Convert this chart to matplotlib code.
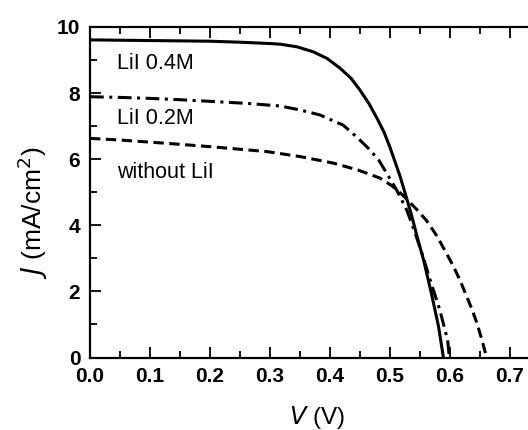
import matplotlib
matplotlib.use('Agg')
import matplotlib.pyplot as plt
from matplotlib.ticker import MultipleLocator

plt.rcParams['font.family'] = ['Liberation Sans', 'DejaVu Sans']

# J-V curves
v_04 = [0.0, 0.05, 0.10, 0.15, 0.20, 0.25, 0.30, 0.317, 0.345, 0.372, 0.395, 0.417, 0.435,
        0.45, 0.465, 0.478, 0.49, 0.50, 0.517, 0.528, 0.536, 0.545, 0.556, 0.569, 0.581, 0.589]
j_04 = [9.61, 9.60, 9.59, 9.58, 9.57, 9.54, 9.50, 9.48, 9.40, 9.25, 9.05, 8.75, 8.45,
        8.09, 7.68, 7.25, 6.82, 6.36, 5.47, 4.80, 4.30, 3.67, 2.95, 1.94, 0.93, 0.0]

v_02 = [0.0, 0.05, 0.10, 0.15, 0.211, 0.26, 0.317, 0.35, 0.383, 0.422, 0.444, 0.464, 0.481,
        0.494, 0.511, 0.528, 0.542, 0.555, 0.567, 0.583, 0.596, 0.599]
j_02 = [7.89, 7.87, 7.84, 7.80, 7.74, 7.69, 7.61, 7.49, 7.34, 7.03, 6.68, 6.33, 5.98,
        5.59, 5.07, 4.46, 3.76, 3.05, 2.34, 1.44, 0.53, 0.0]

v_00 = [0.0, 0.05, 0.128, 0.20, 0.295, 0.35, 0.406, 0.447, 0.483, 0.503, 0.522, 0.545, 0.561,
        0.578, 0.592, 0.606, 0.618, 0.628, 0.637, 0.645, 0.653, 0.661]
j_00 = [6.63, 6.58, 6.48, 6.38, 6.23, 6.08, 5.88, 5.67, 5.43, 5.20, 4.90, 4.47, 4.14,
        3.68, 3.22, 2.75, 2.28, 1.84, 1.44, 1.03, 0.55, 0.0]

labels = ['LiI 0.4M', 'LiI 0.2M', 'without LiI']
label_pos = [(0.045, 8.91), (0.045, 7.22), (0.045, 5.60)]

fig = plt.figure(figsize=(5.28, 4.30), dpi=100)
ax = fig.add_axes([90 / 528, (430 - 357.5) / 430, 450 / 528, 330.5 / 430])

ax.plot(v_04, j_04, color='black', lw=2.2, ls='-')
ax.plot(v_02, j_02, color='black', lw=2.2, ls=(0, (4.5, 1.8, 1.0, 1.8)))
ax.plot(v_00, j_00, color='black', lw=2.2, ls=(0, (3.4, 1.8)))

for txt, (x, y) in zip(labels, label_pos):
    ax.text(x, y, txt, fontsize=15.5, va='center', ha='left')

ax.set_xlim(0, 0.75)
ax.set_ylim(0, 10)
ax.xaxis.set_major_locator(MultipleLocator(0.1))
ax.xaxis.set_minor_locator(MultipleLocator(0.05))
ax.yaxis.set_major_locator(MultipleLocator(2))
ax.yaxis.set_minor_locator(MultipleLocator(1))
ax.tick_params(which='both', direction='in', top=True, right=True, width=1.3)
ax.tick_params(which='major', length=8, labelsize=15, pad=7)
ax.tick_params(which='minor', length=5)
ax.set_xticks([0.0, 0.1, 0.2, 0.3, 0.4, 0.5, 0.6, 0.7])
ax.set_xticklabels(['0.0', '0.1', '0.2', '0.3', '0.4', '0.5', '0.6', '0.7'])
for lab in ax.get_xticklabels() + ax.get_yticklabels():
    lab.set_fontweight('bold')
for s in ax.spines.values():
    s.set_linewidth(1.6)

ax.set_xlabel(r'$\it{V}$ (V)', fontsize=17.5)
ax.set_ylabel(r'$\it{J}$ (mA/cm$^2$)', fontsize=19)
ax.xaxis.set_label_coords(0.505, -0.142)
ax.yaxis.set_label_coords(-0.088, 0.439)

fig.savefig('out.png', dpi=100)
